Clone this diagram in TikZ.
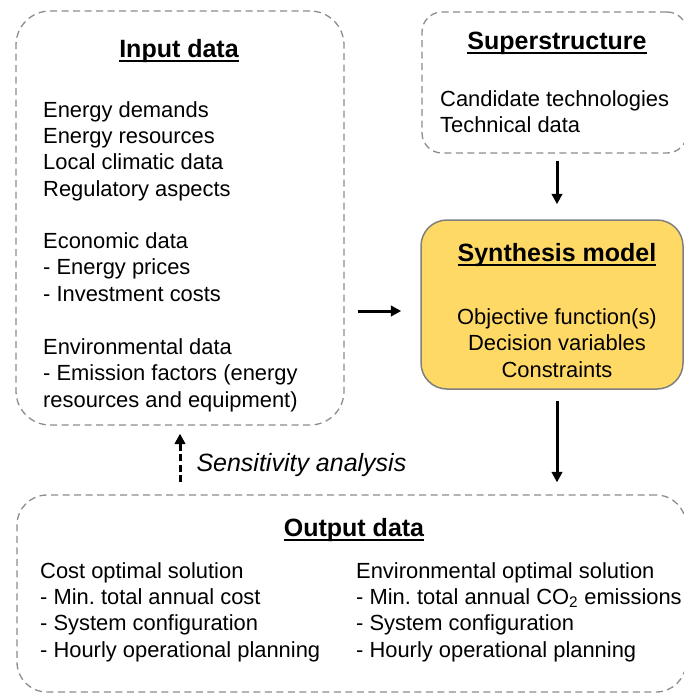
\documentclass[tikz,border=0pt]{standalone}
\usepackage{fontspec}
\setmainfont{Liberation Sans}
\usetikzlibrary{arrows.meta}
\definecolor{boxgray}{HTML}{8C8C8C}
\definecolor{synfill}{HTML}{FFD966}
\definecolor{synline}{HTML}{7F7F7F}
\newcommand\headul[1]{\setbox0=\hbox{#1}\rlap{\rule[-4.8pt]{\wd0}{1.9pt}}\box0}
\frenchspacing
\begin{document}
\begin{tikzpicture}[x=1pt,y=-1pt]
\tikzstyle{every node}+=[inner sep=0pt]
\tikzstyle{dashbox}=[rectangle,draw=boxgray,line width=1.3pt,dash pattern=on 7pt off 4.5pt]
\tikzstyle{title}=[anchor=base,font=\fontsize{25}{30}\selectfont\bfseries]
\tikzstyle{txt}=[anchor=base west,align=left,font=\fontsize{21.9}{26.3}\selectfont]
\tikzstyle{arr}=[line width=3pt,-{Triangle[width=10.5pt,length=10.5pt]}]
\useasboundingbox (0,0) rectangle (684,695);
% boxes
\node[dashbox,rounded corners=34pt,minimum width=328pt,minimum height=414pt] (inbox) at (180,218) {};
\node[dashbox,rounded corners=20pt,minimum width=265pt,minimum height=141pt] (supbox) at (554.5,82.5) {};
\node[rectangle,draw=synline,fill=synfill,line width=1.5pt,rounded corners=26pt,minimum width=262pt,minimum height=169pt] (synbox) at (552,304.5) {};
\node[dashbox,rounded corners=30pt,minimum width=669pt,minimum height=197pt] (outbox) at (351.5,593.5) {};
% input data (base = last line)
\node[title] (intitle) at (179,57.5) {\headul{Input data}};
\node[txt] (ingen) at (43,196) {Energy demands\\Energy resources\\Local climatic data\\Regulatory aspects};
\node[txt] (ineco) at (43,301) {Economic data\\- Energy prices\\- Investment costs};
\node[txt] (inenv) at (43,407) {Environmental data\\- Emission factors (energy\\resources and equipment)};
% superstructure
\node[title] (suptitle) at (557,49.5) {\headul{Superstructure}};
\node[txt] (suptext) at (440,133) {Candidate technologies\\Technical data};
% synthesis model
\node[title] (syntitle) at (557,261.5) {\headul{Synthesis model}};
\node[txt,anchor=base,align=center] (syntext) at (557,377) {Objective function(s)\\Decision variables\\Constraints};
% output data
\node[title] (outtitle) at (354,536.5) {\headul{Output data}};
\node[txt] (outcost) at (40,657) {Cost optimal solution\\- Min. total annual cost\\- System configuration\\- Hourly operational planning};
\node[txt] (outenv) at (356,657) {Environmental optimal solution\\- Min. total annual CO\textsubscript{2} emissions\\- System configuration\\- Hourly operational planning};
% arrows
\draw[arr] ([yshift=-7pt]supbox.south -| syntitle.base) -- ([yshift=15pt]synbox.north -| syntitle.base);
\draw[arr] ([xshift=13pt,yshift=-6.5pt]inbox.east |- synbox.west) -- ([xshift=-19pt,yshift=-6.5pt]synbox.west);
\draw[arr] ([yshift=-11pt]synbox.south -| syntitle.base) -- ([yshift=12pt]outbox.north -| syntitle.base);
\draw[arr,dash pattern=on 7pt off 3.5pt] ([yshift=12pt]outbox.north -| inbox.south) -- ([yshift=-8pt]inbox.south)
  node[pos=0.45,anchor=base west,xshift=15pt,yshift=-11pt,font=\fontsize{25}{30}\selectfont\itshape] (senslabel) {Sensitivity analysis};
\end{tikzpicture}
\end{document}
